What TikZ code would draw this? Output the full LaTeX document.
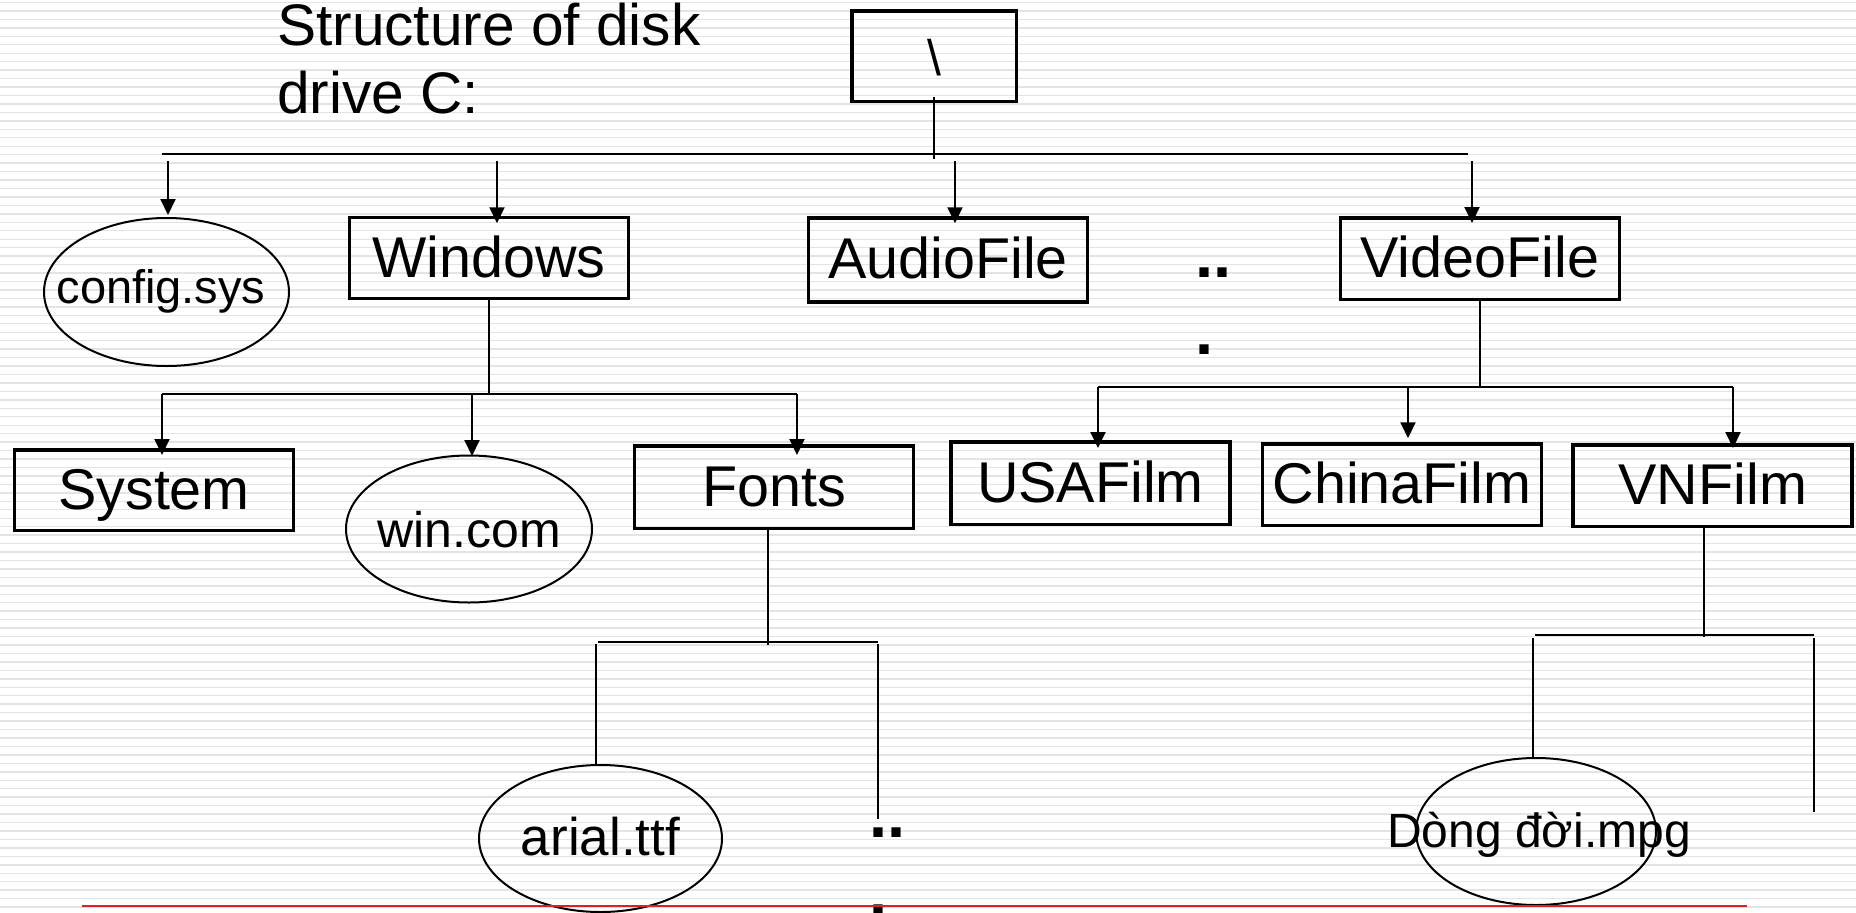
\documentclass[tikz,border=0pt]{standalone}
\usepackage{fontspec}
\setmainfont{Liberation Sans}
\usetikzlibrary{arrows.meta,shapes.geometric}
\definecolor{stripegray}{RGB}{228,228,228}
\definecolor{rulered}{RGB}{226,30,30}
\begin{document}
\begin{tikzpicture}[x=1pt,y=-1pt,
  stripe/.style={line width=1.4pt,stripegray},
  conn/.style={line width=2pt},
  arr/.style={line width=2pt,-{Triangle[length=16pt,width=15pt]}},
  dirbox/.style={draw,line width=3.5pt,minimum width=279pt,minimum height=81pt,inner sep=0pt,text height=38pt,text depth=0pt,font=\fontsize{57.5}{60}\selectfont},
  fileell/.style={draw,ellipse,line width=2pt,inner sep=0pt,text depth=0pt},
  dots/.style={font=\bfseries\fontsize{65}{77}\selectfont,align=left,inner sep=0pt}
]
\useasboundingbox (0,0) rectangle (1856,913);
\foreach \i in {0,...,107} \draw[stripe] (0,{2.5+8.454*\i}) -- (1856,{2.5+8.454*\i});

% nodes
\node[dirbox,minimum width=164.5pt,minimum height=90.5pt,font=\fontsize{50}{55}\selectfont] (root) at (934,56) {\textbackslash};
\node[anchor=base west,align=left,inner sep=0pt,font=\fontsize{58.6}{68}\selectfont] (title) at (277,113) {Structure of disk\\drive C:};
\node[fileell,minimum width=245pt,minimum height=148pt,text height=22pt,font=\fontsize{47}{50}\selectfont] (cfg) at (166.5,292) {\makebox[0pt]{\hspace{-11pt}config.sys}};
\node[dirbox] (win) at (489,258) {Windows};
\node[dirbox,minimum height=84pt,text height=36pt] (audio) at (948,260) {AudioFile};
\node[dirbox,minimum height=81.5pt] (video) at (1480,258.5) {VideoFile};
\node[dirbox,minimum height=80.5pt] (sys) at (154,490) {System};
\node[fileell,minimum width=246pt,minimum height=147pt,text height=36pt,font=\fontsize{50}{55}\selectfont] (wincom) at (469,529) {\makebox[0pt]{win.com}};
\node[dirbox,minimum height=82.5pt] (fonts) at (774,487) {Fonts};
\node[dirbox,minimum height=82.5pt] (usa) at (1090.5,483) {USAFilm};
\node[dirbox,minimum height=81.5pt] (china) at (1402,484.5) {ChinaFilm};
\node[dirbox,minimum height=81.5pt] (vn) at (1712.7,485.5) {VNFilm};
\node[fileell,minimum width=243pt,minimum height=147pt,text height=33pt,font=\fontsize{53}{58}\selectfont] (arial) at (600.5,838.5) {\makebox[0pt]{arial.ttf}};
\node[fileell,minimum width=240pt,minimum height=147pt,text height=31pt,font=\fontsize{48}{52}\selectfont] (movie) at (1536,831.5) {\makebox[0pt]{\hspace{6pt}Dòng đời.mpg}};
\node[dots,anchor=base west] (dotsA) at (1195.5,354) {..\\.};
\node[dots,anchor=base west] (dotsB) at (869.5,914) {..\\.};

% root bus
\coordinate (busL) at (162,154);
\coordinate (busR) at (1468,154);
\coordinate (rootLow) at (934,159);
\draw[conn] ([yshift=6pt]root.south) -- (rootLow);
\draw[conn] (busL) -- (busR);
\coordinate (aCfg) at (168,161);
\coordinate (aWin) at (497,161);
\coordinate (aAud) at (955,161);
\coordinate (aVid) at (1472,161);
\draw[arr,shorten >=2pt] (aCfg) -- (aCfg |- cfg.north);
\draw[arr,shorten >=-7.5pt] (aWin) -- (aWin |- win.north);
\draw[arr,shorten >=-7pt] (aAud) -- (aAud |- audio.north);
\draw[arr,shorten >=-7pt] (aVid) -- (aVid |- video.north);

% Windows subtree
\coordinate (wbL) at (162,394);
\coordinate (wbM) at (472,394);
\coordinate (wbR) at (797,394);
\draw[conn] (win.south) -- (win.south |- wbL);
\draw[conn] (wbL) -- (wbR);
\draw[arr,shorten >=-7pt] (wbL) -- (wbL |- sys.north);
\draw[arr,shorten >=-1.5pt] (wbM) -- (wbM |- wincom.north);
\draw[arr,shorten >=-11pt] (wbR) -- (wbR |- fonts.north);

% VideoFile subtree
\coordinate (vbL) at (1098,387);
\coordinate (vbM) at (1408,387);
\coordinate (vbR) at (1733,387);
\draw[conn] (video.south) -- (video.south |- vbL);
\draw[conn] (vbL) -- (vbR);
\draw[arr,shorten >=-8pt] (vbL) -- (vbL |- usa.north);
\draw[arr,shorten >=3.75pt] (vbM) -- (vbM |- china.north);
\draw[arr,shorten >=-5pt] (vbR) -- (vbR |- vn.north);

% Fonts subtree
\coordinate (fDown) at (768,645);
\coordinate (fbL) at (598,641.7);
\coordinate (fbR) at (878,641.7);
\coordinate (fL) at (596,644);
\coordinate (fR) at (877.7,644);
\coordinate (fRend) at (877.7,819);
\draw[conn] (fDown |- fonts.south) -- (fDown);
\draw[conn] (fbL) -- (fbR);
\draw[conn] (fL) -- (fL |- arial.north);
\draw[conn] (fR) -- (fRend);

% VNFilm subtree
\coordinate (nDown) at (1704,637);
\coordinate (nbL) at (1535,635);
\coordinate (nbR) at (1814,635);
\coordinate (nL) at (1533,638);
\coordinate (nR) at (1814,638);
\coordinate (nRend) at (1814,812);
\draw[conn] (nDown |- vn.south) -- (nDown);
\draw[conn] (nbL) -- (nbR);
\draw[conn] (nL) -- (nL |- movie.north);
\draw[conn] (nR) -- (nRend);

% bottom rule
\coordinate (redL) at (82,906);
\coordinate (redR) at (1747,906);
\draw[line width=1.3pt,rulered] (redL) -- (redR);
\end{tikzpicture}
\end{document}
